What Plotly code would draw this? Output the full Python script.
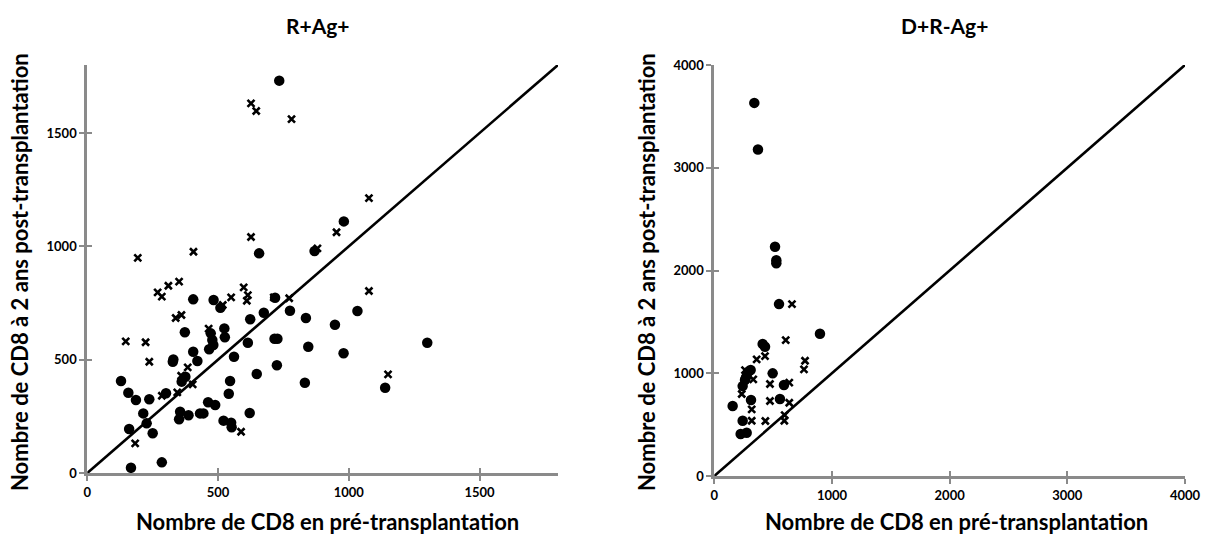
import plotly.graph_objects as go

# ---------------- data ----------------
left_title = "R+Ag+"
right_title = "D+R-Ag+"
x_title = "Nombre de CD8 en pré-transplantation"
y_title = "Nombre de CD8 à 2 ans post-transplantation"

left_range = [0, 1800]
left_ticks = [0, 500, 1000, 1500]
right_range = [0, 4000]
right_ticks = [0, 1000, 2000, 3000, 4000]

left_circle_x = [734, 981, 657, 869, 405, 483, 509, 718, 675, 775, 836, 623, 1033, 947,
                 373, 472, 524, 526, 478, 482, 466, 716, 727, 614, 845, 980, 129, 157,
                 186, 237, 301, 327, 329, 405, 421, 375, 361, 561, 546, 541, 648, 725,
                 832, 462, 489, 355, 351, 387, 431, 444, 521, 550, 552, 621, 214, 227,
                 160, 250, 167, 285, 1300, 1139]
left_circle_y = [1731, 1110, 969, 979, 766, 763, 729, 773, 707, 716, 684, 678, 715, 654,
                 621, 616, 638, 599, 587, 565, 546, 592, 592, 575, 557, 528, 406, 354,
                 322, 325, 352, 491, 501, 535, 494, 425, 403, 513, 406, 350, 437, 475,
                 398, 312, 300, 270, 237, 255, 263, 263, 231, 222, 202, 265, 263, 219,
                 194, 175, 23, 47, 575, 376]

left_cross_x = [626, 646, 781, 1077, 953, 626, 880, 406, 193, 269, 285, 310, 351, 518,
                550, 598, 614, 610, 713, 772, 1077, 338, 360, 464, 147, 223, 237, 285,
                344, 384, 359, 403, 588, 183, 1150]
left_cross_y = [1631, 1597, 1561, 1213, 1062, 1041, 991, 976, 949, 797, 778, 826, 844, 741,
                775, 819, 785, 760, 775, 771, 803, 684, 697, 637, 581, 577, 491, 341,
                356, 466, 429, 391, 182, 131, 435]

right_circle_x = [340, 371, 516, 527, 527, 550, 898, 411, 431, 309, 289, 496, 269, 261,
                  241, 592, 312, 558, 156, 241, 224, 275]
right_circle_y = [3631, 3178, 2231, 2100, 2070, 1673, 1384, 1284, 1258, 1031, 1015, 999,
                  960, 934, 875, 885, 739, 749, 681, 538, 409, 421]

right_cross_x = [660, 607, 360, 431, 771, 762, 261, 331, 473, 637, 233, 473, 637, 318,
                 318, 434, 598, 595]
right_cross_y = [1673, 1323, 1135, 1167, 1122, 1038, 1031, 941, 895, 908, 798, 730, 713,
                 649, 538, 535, 593, 538]

# ---------------- styling ----------------
W, H = 1210, 536
FONT = "Lato"
AX_GRAY = "#8a8a8a"

def px_x(p):
    return p / W

def px_y(p):
    return 1 - p / H

left_xdom = [px_x(87.3), px_x(558)]
left_ydom = [px_y(473), px_y(65)]
right_xdom = [px_x(714.3), px_x(1185)]
right_ydom = [px_y(476), px_y(65)]

circle_marker = dict(symbol="circle", size=10.5, color="black", line=dict(width=0))
cross_marker = dict(symbol="x-thin", size=7, color="black", line=dict(width=2.6, color="black"))

fig = go.Figure()

def add_panel(cx, cy, xx, xy, rng, xa, ya):
    fig.add_trace(go.Scatter(x=rng, y=rng, mode="lines", line=dict(color="black", width=2.6),
                             xaxis=xa, yaxis=ya, hoverinfo="skip", showlegend=False))
    fig.add_trace(go.Scatter(x=cx, y=cy, mode="markers", marker=circle_marker,
                             xaxis=xa, yaxis=ya, showlegend=False))
    fig.add_trace(go.Scatter(x=xx, y=xy, mode="markers", marker=cross_marker,
                             xaxis=xa, yaxis=ya, showlegend=False))

add_panel(left_circle_x, left_circle_y, left_cross_x, left_cross_y, left_range, "x", "y")
add_panel(right_circle_x, right_circle_y, right_cross_x, right_cross_y, right_range, "x2", "y2")

# empty traces for overlay axes (used to draw the inner half of crossing ticks)
fig.add_trace(go.Scatter(x=[], y=[], xaxis="x3", yaxis="y", showlegend=False))
fig.add_trace(go.Scatter(x=[], y=[], xaxis="x", yaxis="y3", showlegend=False))
fig.add_trace(go.Scatter(x=[], y=[], xaxis="x4", yaxis="y2", showlegend=False))
fig.add_trace(go.Scatter(x=[], y=[], xaxis="x2", yaxis="y4", showlegend=False))

tickfont = dict(family=FONT, size=13, color="black", weight="bold")

def main_axis(domain, rng, ticks, anchor):
    return dict(domain=domain, range=rng, tickvals=ticks, ticktext=[str(t) for t in ticks],
                showline=True, linecolor=AX_GRAY, linewidth=3, ticks="outside",
                tickcolor=AX_GRAY, tickwidth=2, ticklen=5, showgrid=False, zeroline=False,
                tickfont=tickfont, anchor=anchor, fixedrange=True, automargin=False)

def overlay_axis(rng, ticks, anchor, over):
    return dict(range=rng, tickvals=ticks, showticklabels=False, showline=False,
                ticks="inside", tickcolor=AX_GRAY, tickwidth=2, ticklen=5, showgrid=False,
                zeroline=False, anchor=anchor, overlaying=over, fixedrange=True,
                automargin=False)

fig.update_layout(
    width=W, height=H, autosize=False,
    margin=dict(l=0, r=0, t=0, b=0, pad=0, autoexpand=False),
    paper_bgcolor="white", plot_bgcolor="rgba(0,0,0,0)",
    showlegend=False,
    xaxis=main_axis(left_xdom, left_range, left_ticks, "y"),
    yaxis=main_axis(left_ydom, left_range, left_ticks, "x"),
    xaxis2=main_axis(right_xdom, right_range, right_ticks, "y2"),
    yaxis2=main_axis(right_ydom, right_range, right_ticks, "x2"),
    xaxis3=overlay_axis(left_range, left_ticks, "y", "x"),
    yaxis3=overlay_axis(left_range, left_ticks, "x", "y"),
    xaxis4=overlay_axis(right_range, right_ticks, "y2", "x2"),
    yaxis4=overlay_axis(right_range, right_ticks, "x2", "y2"),
)

title_font = dict(family=FONT, size=21, color="black", weight="bold")
x_title_font = dict(family=FONT, size=22, color="black", weight="bold")
y_title_font = dict(family=FONT, size=22, color="black", weight="bold")

annotations = [
    dict(text=left_title, x=px_x(318), y=px_y(25), xref="paper", yref="paper",
         showarrow=False, font=title_font, xanchor="center", yanchor="middle"),
    dict(text=right_title, x=px_x(944), y=px_y(25), xref="paper", yref="paper",
         showarrow=False, font=title_font, xanchor="center", yanchor="middle"),
    dict(text=x_title, x=px_x(328), y=px_y(521), xref="paper", yref="paper",
         showarrow=False, font=x_title_font, xanchor="center", yanchor="middle"),
    dict(text=x_title, x=px_x(956), y=px_y(521), xref="paper", yref="paper",
         showarrow=False, font=x_title_font, xanchor="center", yanchor="middle"),
    dict(text=y_title, x=px_x(19), y=px_y(272), xref="paper", yref="paper", textangle=-90,
         showarrow=False, font=y_title_font, xanchor="center", yanchor="middle"),
    dict(text=y_title, x=px_x(646), y=px_y(272), xref="paper", yref="paper", textangle=-90,
         showarrow=False, font=y_title_font, xanchor="center", yanchor="middle"),
]
fig.update_layout(annotations=annotations)

fig.write_html(
    "out.html",
    config=dict(displayModeBar=False),
    post_script="document.body.style.margin='0px';document.body.style.padding='0px';"
                "document.documentElement.style.overflow='hidden';",
)
